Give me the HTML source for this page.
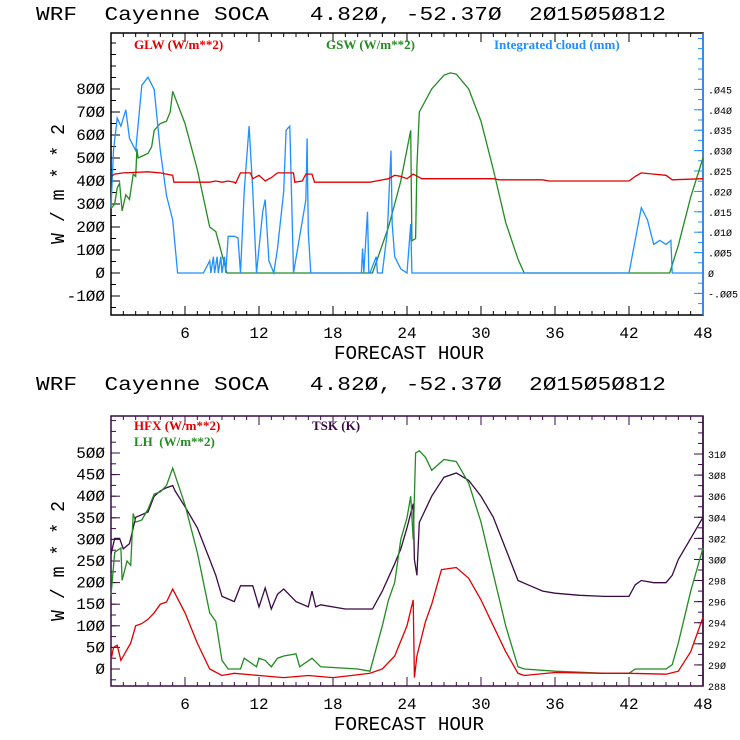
<!DOCTYPE html>
<html><head><meta charset="utf-8"><style>
body{margin:0;background:#fff;width:740px;height:740px;overflow:hidden}
svg{display:block}
.t{font-family:"Liberation Mono",monospace;font-size:19px;fill:#000;white-space:pre}
.tk{font-family:"Liberation Mono",monospace;font-size:16px;fill:#000}
.rt{font-family:"Liberation Mono",monospace;font-size:10px;fill:#000}
.lg{font-family:"Liberation Serif",serif;font-size:13px;font-weight:bold;white-space:pre}
</style></head><body>
<svg id="c" width="740" height="740" xmlns="http://www.w3.org/2000/svg"></svg>
<script>
// ---- Top panel data ----
const glwHours=[0,0.3,1,3,4,5,5.1,8,8.5,9,9.5,10,10.1,10.5,11.3,11.5,12,12.5,13,13.5,14.8,14.9,15.5,15.8,16.3,16.5,21,21.5,22.5,23,23.5,24,24.5,25.2,26,31,31.5,35,35.5,42,42.5,43,44,45,45.5,48];
const glwVals=[420,430,435,440,435,425,395,395,400,395,400,395,390,435,435,410,425,400,415,435,435,395,400,430,430,395,395,400,410,425,420,410,430,410,410,410,405,405,400,400,420,435,430,425,405,410];
const gswHours=[0,0.3,0.5,0.7,0.9,1.2,1.5,1.8,2,2.1,2.2,3,3.3,3.5,4,4.5,4.8,5,6,7,8,8.5,9,9.4,21.2,22.5,23,23.5,24.3,24.4,24.7,24.8,25,26,27,27.5,28,29,30,31,32,33,33.5,45.3,46,47,48];
const gswVals=[280,300,370,390,270,340,320,430,420,540,500,520,550,620,650,660,700,790,650,450,200,180,80,0,0,200,300,400,620,140,150,460,700,800,860,870,865,800,660,450,220,60,0,0,120,330,500];
const cldHours=[0,0.2,0.5,0.8,1.2,1.5,2,2.5,3,3.5,4,4.5,5,5.4,7.5,8,8.1,8.3,8.4,8.6,8.7,8.9,9,9.2,9.3,9.5,10,10.3,10.5,10.8,11.2,11.5,11.8,12.3,12.5,12.8,13.2,13.5,14,14.2,14.5,14.8,15.8,15.9,16,16.2,20.3,20.4,20.5,20.8,20.9,21,21.5,21.6,22,22.4,22.7,22.8,23,23.5,24,24.3,24.4,42,43,43.5,44,44.5,45,45.4,45.5,48];
const cldVals=[0.016,0.03,0.038,0.036,0.04,0.033,0.03,0.046,0.048,0.045,0.03,0.019,0.013,0,0,0.003,0,0.004,0,0.004,0,0.004,0,0.004,0,0.009,0.009,0.0086,0,0.02,0.036,0.02,0,0.015,0.018,0.003,0,0.006,0.02,0.035,0.036,0,0.018,0.033,0.01,0,0,0.006,0,0.015,0,0,0.004,0,0,0.01,0.03,0.012,0.004,0.001,0,0.012,0,0,0.016,0.013,0.007,0.008,0.007,0.008,0,0];
// ---- Bottom panel data ----
const hfxHours=[0,0.2,0.5,0.8,1.2,1.6,2,2.5,3,3.5,4,4.5,5,6,7,8,9,10,12,14,16,18,19.5,21,22,23,24,24.5,24.6,24.8,25.5,26,26.8,28,29,30,31,32,33,33.5,36,40,42,45,46,47,48];
const hfxVals=[20,50,55,20,40,60,100,105,115,130,150,155,185,130,60,0,-15,-10,-15,-20,-15,-20,-15,-10,0,30,100,160,-20,30,110,150,230,235,210,160,100,40,-10,-15,-8,-10,-10,-12,-5,40,120];
const lhHours=[0,0.3,0.8,0.9,1.3,1.6,1.8,2,2.5,3,3.5,4,4.5,5,6,7,8,8.5,9,9.5,10.5,10.8,11.8,12,12.5,13,13.5,14,15,15.3,16.3,17,20,21,22,22.5,23,23.5,24,24.3,24.5,24.7,25,25.5,26,27,28,29,30,31,32,33,33.5,36,40,42,42.5,45,45.5,46,47,48];
const lhVals=[170,270,280,205,250,240,360,340,345,370,405,410,425,465,380,270,130,110,20,0,0,25,5,25,20,5,25,30,35,5,25,5,0,-5,100,160,200,300,350,400,300,500,505,490,460,485,480,430,340,220,100,5,0,-5,-10,-10,0,0,10,60,180,280];
const tskHours=[0,0.3,0.7,1,1.5,2,3,3.5,4,4.5,5,5.2,6,7,8,8.5,9,10,10.5,11.5,12,12.5,13,13.5,14,15,16,16.3,16.6,17,19,21.2,22,23,23.5,24,24.5,24.6,24.8,25,26,27,28,29,30,31,32,33,34,35,36,38,40,42,42.5,43,44,45,45.5,46,47,48];
const tskVals=[300.5,302,302,301,301.5,304,304.5,306,306.5,306.8,307,306.5,305,303,300,298.5,296.5,296,297.5,297.5,295.5,297.3,295.3,296.7,297.2,296,295.5,297,295.5,295.7,295.3,295.3,297,299.6,301,303,305.3,300,298.5,303.5,306,307.8,308.2,307.5,306,304,301,298,297.5,297,296.8,296.6,296.5,296.5,297.6,298,297.8,297.8,298.5,300,302,304];
const topLeftTicks=[-100,0,100,200,300,400,500,600,700,800];
const topRightTicks=[-0.005,0,0.005,0.010,0.015,0.020,0.025,0.030,0.035,0.040,0.045];
const botLeftTicks=[0,50,100,150,200,250,300,350,400,450,500];
const botRightTicks=[288,290,292,294,296,298,300,302,304,306,308,310];
const hourTicks=[6,12,18,24,30,36,42,48];

const NS="http://www.w3.org/2000/svg";
const svg=document.getElementById('c');
function el(tag,attrs,parent){const e=document.createElementNS(NS,tag);for(const k in attrs)e.setAttribute(k,attrs[k]);(parent||svg).appendChild(e);return e;}
const X0=111,X1=703;
const xS=h=>X0+(X1-X0)*h/48;
const T={top:33,bot:315};
const yTopW=v=>273-v*(273-89)/800;
const yTopC=v=>273-v*20.4/0.005;
const B={top:416,bot:686};
const yBotW=v=>669-v*(669-453)/500;
const yBotK=v=>686-(v-288)*(686-454)/22;
function fmtR(v){if(v===0)return'0';let s=Math.abs(v).toFixed(3).replace(/^0/,'');return (v<0?'-':'')+s;}
function z(s){return String(s).replace(/0/g,'Ø');}

function line(hours,vals,ys,color,name){
  let d='';hours.forEach((h,i)=>{d+=(i?'L':'M')+xS(h).toFixed(1)+' '+ys(vals[i]).toFixed(1);});
  const p=el('path',{d:d,fill:'none',stroke:color,'stroke-width':1.3});
  
  
}
function panel(P,titleY,frameColor,rightColor,leftTicks,yL,leftMinor,lmin,lmax,rightTicks,yR,rightMinor,rmin,rmax,rfmt,prefix){
  const t=el('text',{x:36,y:titleY,class:'t',textLength:630,lengthAdjust:'spacingAndGlyphs'});t.textContent=z('WRF  Cayenne SOCA   4.820, -52.370  2015050812');
  
  
  const g=el('g',{});
  
  
  el('rect',{x:X0,y:P.top,width:X1-X0,height:P.bot-P.top,fill:'none',stroke:frameColor,'stroke-width':1.5},g);
  el('line',{x1:X1,y1:P.top,x2:X1,y2:P.bot,stroke:rightColor,'stroke-width':1.5},g);
  for(let h=1;h<48;h++){const big=h%6===0;const x=xS(h);
    el('line',{x1:x,y1:P.bot,x2:x,y2:P.bot-(big?9:4),stroke:frameColor},g);
    el('line',{x1:x,y1:P.top,x2:x,y2:P.top+(big?9:4),stroke:frameColor},g);}
  hourTicks.forEach(h=>{const tx=el('text',{x:xS(h),y:P.bot+23,class:'tk','text-anchor':'middle'},g);tx.textContent=h;});
  for(let v=lmin;v<=lmax+1e-9;v+=leftMinor){const y=yL(v);if(y<P.top||y>P.bot)continue;
    el('line',{x1:X0,y1:y,x2:X0+5,y2:y,stroke:frameColor},g);}
  leftTicks.forEach(v=>{const y=yL(v);el('line',{x1:X0,y1:y,x2:X0+9,y2:y,stroke:frameColor},g);
    const tx=el('text',{x:X0-6,y:y+5,class:'tk','text-anchor':'end'},g);tx.textContent=z(v);});
  for(let v=rmin;v<=rmax+1e-9;v+=rightMinor){const y=yR(v);if(y<P.top||y>P.bot)continue;
    el('line',{x1:X1,y1:y,x2:X1-5,y2:y,stroke:rightColor},g);}
  rightTicks.forEach(v=>{const y=yR(v);el('line',{x1:X1,y1:y,x2:X1-9,y2:y,stroke:rightColor},g);
    const tx=el('text',{x:X1+5,y:y+4,class:'rt'},g);tx.textContent=z(rfmt(v));});
  const xl=el('text',{x:334,y:P.bot+44,class:'t','font-size':'17',textLength:150,lengthAdjust:'spacingAndGlyphs'},g);xl.textContent='FORECAST HOUR';
  
  
  const yy=(P.top+P.bot)/2+10;
  const yl=el('text',{x:-60,y:0,class:'t',textLength:120,lengthAdjust:'spacingAndGlyphs',transform:`translate(64,${yy}) rotate(-90)`},g);yl.textContent='W / m * * 2';
  
  
}
panel(T,20,'#000','#1E90FF',topLeftTicks,yTopW,50,-150,1000,topRightTicks,yTopC,0.0025,-0.0075,0.06,fmtR,'top');
panel(B,390,'#3a0a45','#3a0a45',botLeftTicks,yBotW,25,-25,700,botRightTicks,yBotK,1,288,318,v=>String(v),'bottom');

function legend(x,y,txt,color,name){const t=el('text',{x:x,y:y,class:'lg',fill:color});t.textContent=txt;
  
  }
legend(134,49,'GLW (W/m**2)','#e00000','legend-glw');
legend(326,49,'GSW (W/m**2)','#228b22','legend-gsw');
legend(494,49,'Integrated cloud (mm)','#1E90FF','legend-cloud');
legend(134,415+15,'HFX (W/m**2)','#e00000','legend-hfx');
legend(134,415+31,'LH  (W/m**2)','#228b22','legend-lh');
legend(312,415+15,'TSK (K)','#3a0a45','legend-tsk');

line(gswHours,gswVals,yTopW,'#228b22','gsw-line');
line(cldHours,cldVals,yTopC,'#1E90FF','cloud-line');
line(glwHours,glwVals,yTopW,'#e00000','glw-line');
line(tskHours,tskVals,yBotK,'#3a0a45','tsk-line');
line(lhHours,lhVals,yBotW,'#228b22','lh-line');
line(hfxHours,hfxVals,yBotW,'#e00000','hfx-line');
</script>
</body></html>
